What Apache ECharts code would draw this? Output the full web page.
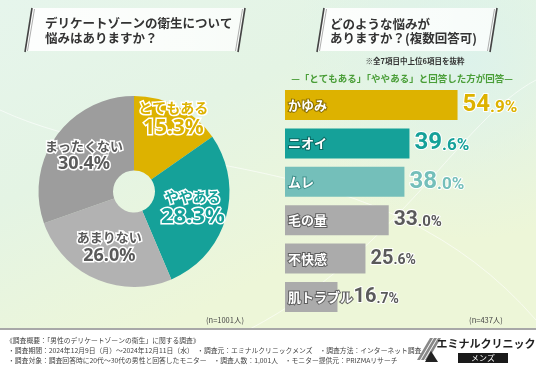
<!DOCTYPE html>
<html><head><meta charset="utf-8">
<script src="https://cdn.jsdelivr.net/npm/echarts@6/dist/echarts.min.js"></script>
<style>html,body{margin:0;padding:0;background:#fff}#c{width:536px;height:371px}</style>
</head><body><div id="c"></div>
<script>
// ---- data ----
const pieCategories = ['とてもある', 'ややある', 'あまりない', 'まったくない'];
const pieValues = [15.3, 28.3, 26.0, 30.4];
const pieN = '(n=1001人)';
const barCategories = ['かゆみ', 'ニオイ', 'ムレ', '毛の量', '不快感', '肌トラブル'];
const barValues = [54.9, 39.6, 38.0, 33.0, 25.6, 16.7];
const barN = '(n=437人)';
const leftTitle = ['デリケートゾーンの衛生について', '悩みはありますか？'];
const rightTitle = ['どのような悩みが', 'ありますか？(複数回答可)'];
const rightNote = '※全7項目中上位6項目を抜粋';
const rightSub = '—「とてもある」「ややある」と回答した方が回答—';
const footerLines = [
  '《調査概要：「男性のデリケートゾーンの衛生」に関する調査》',
  '・調査期間：2024年12月9日（月）～2024年12月11日（水）　・調査元：エミナルクリニックメンズ　・調査方法：インターネット調査',
  '・調査対象：調査回答時に20代～30代の男性と回答したモニター　・調査人数：1,001人　・モニター提供元：PRIZMAリサーチ'
];
const logoText = 'エミナルクリニック';
const logoSub = 'メンズ';

// ---- styles ----
const FONT = '"Noto Sans CJK JP", "Noto Sans", sans-serif';
const GOLD = '#DDB200', TEAL = '#15A199', LTEAL = '#74BFBA', GRAY = '#ABABAB';
const pieColors = [GOLD, TEAL, '#B2B2B2', '#9D9D9D'];
const pieTextColors = [GOLD, TEAL, '#5a5a5a', '#5a5a5a'];
const pieNameSize = [14, 14, 13, 13];
const pieValSize = [21, 22, 18, 18];
const piePadding = [[0, 0, 36, 22], 0, 0, 0];
const barColors = [GOLD, TEAL, LTEAL, GRAY, GRAY, GRAY];
const barBorder = ['#8a6f00', '#0b6a64', '#3f8f8a', '#5f5f5f', '#5f5f5f', '#5f5f5f'];
const valColors = [GOLD, TEAL, LTEAL, '#5a5a5a', '#5a5a5a', '#5a5a5a'];
const valBig = [24, 24, 24, 21, 20, 20];
const valSmall = [17, 17, 17, 15, 14, 14];
const valExtra = [0, 0, 0, 0, 0, 11];

const chart = echarts.init(document.getElementById('c'), null, {renderer: 'canvas'});

function txt(text, x, y, size, color, weight, align, family) {
  return {type: 'text', z: 50, style: {text: text, x: x, y: y, fill: color, fontSize: size,
    fontWeight: weight || 'normal', fontFamily: family || FONT,
    textAlign: align || 'left', align: align || 'left', textVerticalAlign: 'middle', verticalAlign: 'middle'}};
}
function ln(x1, y1, x2, y2, color, w) {
  return {type: 'line', z: 40, shape: {x1: x1, y1: y1, x2: x2, y2: y2}, style: {stroke: color, lineWidth: w}};
}
function banner(xl, xr, slant) {
  return [
    {type: 'polygon', z: 30, shape: {points: [[xl + slant, 8], [xr + slant, 8], [xr, 51], [xl, 51]]},
      style: {fill: {type: 'linear', x: 0, y: 0, x2: 1, y2: 0, colorStops: [
        {offset: 0, color: 'rgba(255,255,255,0.92)'}, {offset: 1, color: 'rgba(255,255,255,0.75)'}]}}},
    ln(xl + slant, 8, xl, 52, '#444', 1.6), ln(xl + slant + 2.5, 9, xl + 2.5, 51, '#999', 0.8),
    ln(xr + slant, 8, xr, 52, '#444', 1.6), ln(xr + slant - 2.5, 9, xr - 2.5, 51, '#999', 0.8)
  ];
}

const graphics = [
  {type: 'rect', z: 0, shape: {x: 0, y: 0, width: 536, height: 329},
    style: {fill: {type: 'linear', x: 0, y: 0, x2: 0.3, y2: 1, colorStops: [
      {offset: 0, color: '#E6F5EC'}, {offset: 0.5, color: '#E4F4E4'}, {offset: 1, color: '#EDF6D8'}]}}},
  {type: 'circle', z: 1, shape: {cx: 470, cy: 60, r: 180},
    style: {fill: {type: 'radial', x: 0.5, y: 0.5, r: 0.5, colorStops: [
      {offset: 0, color: 'rgba(220,242,236,0.9)'}, {offset: 1, color: 'rgba(220,242,236,0)'}]}}},
  {type: 'bezierCurve', z: 2, shape: {x1: 0, y1: 110, x2: 536, y2: 320, cpx1: 150, cpy1: 180, cpx2: 380, cpy2: 140},
    style: {stroke: 'rgba(255,255,255,0.6)', lineWidth: 1, fill: null}},
  {type: 'bezierCurve', z: 2, shape: {x1: 250, y1: 329, x2: 536, y2: 80, cpx1: 400, cpy1: 250, cpx2: 460, cpy2: 120},
    style: {stroke: 'rgba(255,255,255,0.6)', lineWidth: 1, fill: null}},
  {type: 'rect', z: 3, shape: {x: 0, y: 328, width: 536, height: 2}, style: {fill: '#A8A8A8'}},
  ...banner(25, 238, 7),
  ...banner(317, 490, 7),
  txt(leftTitle[0], 45, 23, 12.5, '#333', 'bold'),
  txt(leftTitle[1], 45, 38, 12.5, '#333', 'bold'),
  txt(rightTitle[0], 330, 24, 12.5, '#333', 'bold'),
  txt(rightTitle[1], 330, 38, 12.5, '#333', 'bold'),
  txt(rightNote, 415, 61, 7.5, '#333', 'bold', 'center'),
  txt(rightSub, 402, 78, 9.5, '#4A9E38', 'bold', 'center'),
  txt(pieN, 225, 320, 7.5, '#444', 'normal', 'center'),
  txt(barN, 486, 320, 7.5, '#444', 'normal', 'center'),
  txt(footerLines[0], 6, 340, 6.8, '#444'),
  txt(footerLines[1], 8, 350.5, 6.8, '#444'),
  txt(footerLines[2], 8, 360.5, 6.8, '#444'),
  txt(logoText, 486, 344, 11, '#222', 'bold', 'center'),
  {type: 'rect', z: 45, shape: {x: 458, y: 353, width: 50, height: 10}, style: {fill: '#1a1a1a'}},
  txt(logoSub, 483, 358, 8, '#fff', 'normal', 'center'),
  {type: 'polygon', z: 45, shape: {points: [[430, 338], [433, 338], [420, 360], [417, 360]]}, style: {fill: '#888'}},
  {type: 'polygon', z: 45, shape: {points: [[434, 338], [437, 338], [424, 360], [421, 360]]}, style: {fill: '#888'}},
  {type: 'polygon', z: 45, shape: {points: [[438, 338], [441, 338], [428, 360], [425, 360]]}, style: {fill: '#888'}},
  {type: 'polygon', z: 45, shape: {points: [[425, 362], [431, 351], [438, 362]]}, style: {fill: '#222'}}
];

const pieData = pieCategories.map((name, i) => ({
  name: name, value: pieValues[i],
  itemStyle: {color: pieColors[i]},
  label: {
    padding: piePadding[i],
    rich: {
      n: {fontSize: pieNameSize[i], fontWeight: 'bold', fontFamily: FONT, color: pieTextColors[i],
          textBorderColor: '#fff', textBorderWidth: 3, lineHeight: pieNameSize[i] + 3},
      v: {fontSize: pieValSize[i], fontWeight: 'bold', fontFamily: '"Noto Sans", sans-serif', color: pieTextColors[i],
          textBorderColor: '#fff', textBorderWidth: 3, lineHeight: pieValSize[i] + 2}
    }
  }
}));

const barData = barValues.map((v, i) => ({
  value: v, itemStyle: {color: barColors[i]},
  label: {textBorderColor: barBorder[i]}
}));
const valData = barValues.map((v, i) => ({
  value: v,
  label: {
    distance: 5 + valExtra[i],
    rich: {
      a: {fontSize: valBig[i], fontWeight: 'bold', fontFamily: 'Roboto, sans-serif', color: valColors[i],
          textBorderColor: '#fff', textBorderWidth: 2},
      b: {fontSize: valSmall[i], fontWeight: 'bold', fontFamily: 'Roboto, sans-serif', color: valColors[i],
          textBorderColor: '#fff', textBorderWidth: 2, padding: [valBig[i] - valSmall[i] - 2, 0, 0, 0]}
    }
  }
}));

chart.setOption({
  animation: false,
  backgroundColor: '#fff',
  graphic: graphics,
  grid: {left: 285, right: 31, top: 85.8, bottom: 54.8},
  xAxis: {type: 'value', min: 0, max: 70, show: false},
  yAxis: {type: 'category', data: barCategories, inverse: true, show: false},
  series: [
    {
      type: 'pie', center: [134, 191.5], radius: [21, 95.5], startAngle: 90, clockwise: true,
      silent: true, z: 10,
      label: {show: true, position: 'inside', formatter: p => '{n|' + p.name + '}\n{v|' + p.value.toFixed(1) + '%}'},
      labelLine: {show: false},
      itemStyle: {borderWidth: 0},
      data: pieData
    },
    {
      type: 'bar', barWidth: 30, silent: true, z: 10,
      label: {show: true, position: 'insideLeft', distance: 3, formatter: '{b}', color: '#fff',
        fontSize: 13, fontWeight: 'bold', fontFamily: FONT, textBorderWidth: 2},
      data: barData
    },
    {
      type: 'bar', barWidth: 30, barGap: '-100%', silent: true, z: 9,
      itemStyle: {color: 'rgba(0,0,0,0)'},
      label: {show: true, position: 'right',
        formatter: p => {
          const s = p.value.toFixed(1);
          const k = s.indexOf('.');
          return '{a|' + s.slice(0, k) + '}{b|' + s.slice(k) + '%}';
        }},
      data: valData
    }
  ]
});
</script></body></html>
